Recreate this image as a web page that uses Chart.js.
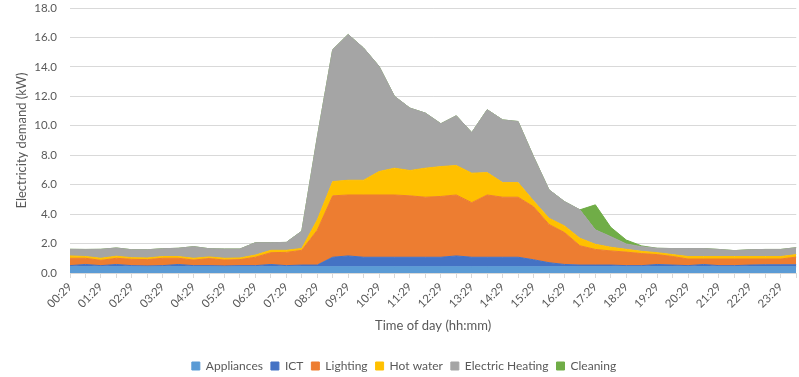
<!DOCTYPE html>
<html>
<head>
<meta charset="utf-8">
<script src="https://cdn.jsdelivr.net/npm/chart.js@4"></script>
<style>
  html, body { margin: 0; padding: 0; background: #ffffff; overflow: hidden; }
  #wrap { width: 808px; height: 377px; position: relative; }
</style>
</head>
<body>
<div id="wrap"><canvas id="demand-chart"></canvas></div>
<script>
// half-hourly time slots
const timeLabels = [
    '00:29', '00:59', '01:29', '01:59', '02:29', '02:59', '03:29', '03:59',
    '04:29', '04:59', '05:29', '05:59', '06:29', '06:59', '07:29', '07:59',
    '08:29', '08:59', '09:29', '09:59', '10:29', '10:59', '11:29', '11:59',
    '12:29', '12:59', '13:29', '13:59', '14:29', '14:59', '15:29', '15:59',
    '16:29', '16:59', '17:29', '17:59', '18:29', '18:59', '19:29', '19:59',
    '20:29', '20:59', '21:29', '21:59', '22:29', '22:59', '23:29', '23:59'
];

// demand per end use (kW)
const appliances = [
    0.42, 0.42, 0.42, 0.42, 0.42, 0.42, 0.42, 0.42, 0.42, 0.42, 0.42, 0.42,
    0.42, 0.42, 0.42, 0.42, 0.42, 0.42, 0.42, 0.42, 0.42, 0.42, 0.42, 0.42,
    0.42, 0.42, 0.42, 0.42, 0.42, 0.42, 0.42, 0.42, 0.42, 0.42, 0.42, 0.42,
    0.42, 0.42, 0.42, 0.42, 0.42, 0.42, 0.42, 0.42, 0.42, 0.42, 0.42, 0.42
];
const ict = [
    0.08, 0.16, 0.08, 0.16, 0.08, 0.06, 0.08, 0.16, 0.08, 0.08, 0.06, 0.08,
    0.08, 0.16, 0.08, 0.12, 0.12, 0.65, 0.74, 0.65, 0.65, 0.65, 0.65, 0.65,
    0.65, 0.74, 0.65, 0.65, 0.65, 0.65, 0.48, 0.28, 0.16, 0.12, 0.12, 0.12,
    0.08, 0.08, 0.16, 0.12, 0.08, 0.16, 0.08, 0.08, 0.12, 0.14, 0.14, 0.14
];
const lighting = [
    0.50, 0.42, 0.36, 0.42, 0.43, 0.43, 0.50, 0.42, 0.38, 0.48, 0.40, 0.41,
    0.57, 0.80, 0.90, 1.00, 2.36, 4.17, 4.14, 4.23, 4.23, 4.23, 4.17, 4.08,
    4.13, 4.14, 3.71, 4.23, 4.08, 4.08, 3.60, 2.60, 2.17, 1.31, 1.06, 0.96,
    0.92, 0.82, 0.67, 0.58, 0.45, 0.37, 0.45, 0.45, 0.41, 0.39, 0.39, 0.52
];
const hotWater = [
    0.16, 0.12, 0.14, 0.14, 0.11, 0.11, 0.12, 0.12, 0.12, 0.11, 0.12, 0.11,
    0.15, 0.16, 0.14, 0.13, 0.70, 0.97, 1.00, 1.00, 1.59, 1.82, 1.72, 1.97,
    2.03, 2.00, 2.00, 1.52, 0.99, 0.99, 0.40, 0.42, 0.45, 0.51, 0.35, 0.25,
    0.19, 0.15, 0.13, 0.13, 0.17, 0.17, 0.17, 0.17, 0.17, 0.17, 0.17, 0.17
];
const electricHeating = [
    0.45, 0.48, 0.61, 0.56, 0.54, 0.56, 0.53, 0.56, 0.79, 0.56, 0.63, 0.61,
    0.84, 0.52, 0.54, 1.17, 5.60, 8.96, 9.90, 8.98, 7.15, 4.88, 4.24, 3.74,
    2.91, 3.38, 2.76, 4.27, 4.26, 4.15, 3.00, 1.93, 1.65, 1.93, 0.98, 0.72,
    0.36, 0.32, 0.30, 0.41, 0.54, 0.54, 0.48, 0.40, 0.46, 0.48, 0.48, 0.47
];
const cleaning = [
    0, 0, 0, 0, 0, 0, 0, 0, 0, 0, 0, 0,
    0, 0, 0, 0, 0, 0, 0, 0, 0, 0, 0, 0,
    0, 0, 0, 0, 0, 0, 0, 0, 0, 0, 1.70, 0.63,
    0.27, 0.05, 0, 0, 0, 0, 0, 0, 0, 0, 0, 0
];

const yTicks = { min: 0, max: 18, step: 2 };

const textColor = '#595959';
const gridColor = '#d9d9d9';
const fontFamily = 'Lato, "Liberation Sans", sans-serif';

function areaSet(label, data, color, fill) {
    return {
        label: label,
        data: data,
        backgroundColor: color,
        borderColor: color,
        borderWidth: 1,
        pointRadius: 0,
        pointHoverRadius: 0,
        tension: 0,
        fill: fill
    };
}

const ctx = document.getElementById('demand-chart').getContext('2d');

new Chart(ctx, {
    type: 'line',
    data: {
        labels: timeLabels,
        datasets: [
            areaSet('Appliances', appliances, '#5b9bd5', 'origin'),
            areaSet('ICT', ict, '#4472c4', '-1'),
            areaSet('Lighting', lighting, '#ed7d31', '-1'),
            areaSet('Hot water', hotWater, '#ffc000', '-1'),
            areaSet('Electric Heating', electricHeating, '#a5a5a5', '-1'),
            areaSet('Cleaning', cleaning, '#70ad47', '-1')
        ]
    },
    options: {
        responsive: true,
        maintainAspectRatio: false,
        animation: false,
        layout: {
            padding: { left: 0, right: 0, top: 8, bottom: -5 }
        },
        plugins: {
            legend: {
                position: 'bottom',
                labels: {
                    boxWidth: 8,
                    boxHeight: 8,
                    padding: 8,
                    color: textColor,
                    font: { family: fontFamily, size: 12 }
                }
            },
            tooltip: { enabled: false }
        },
        scales: {
            x: {
                offset: false,
                grid: {
                    drawOnChartArea: false,
                    drawTicks: true,
                    tickLength: 5,
                    color: gridColor
                },
                border: { color: gridColor },
                ticks: {
                    autoSkip: false,
                    maxRotation: 45,
                    minRotation: 45,
                    padding: 2,
                    color: textColor,
                    font: { family: fontFamily, size: 11.5 },
                    callback: function(value, index) {
                        return index % 2 === 0 ? this.getLabelForValue(value) : '';
                    }
                },
                title: {
                    display: true,
                    text: 'Time of day (hh:mm)',
                    color: textColor,
                    font: { family: fontFamily, size: 13 },
                    padding: { top: 0, bottom: 18 }
                },
                afterFit: function(scale) {
                    scale.height = 79;
                }
            },
            y: {
                stacked: true,
                min: yTicks.min,
                max: yTicks.max,
                grid: {
                    // invisible tick marks keep the labels clear of the plot
                    drawTicks: true,
                    tickLength: 12,
                    tickColor: 'rgba(0, 0, 0, 0)',
                    color: gridColor
                },
                border: { display: false },
                ticks: {
                    stepSize: yTicks.step,
                    padding: 1,
                    color: textColor,
                    font: { family: fontFamily, size: 11.5 },
                    callback: function(value) {
                        return value.toFixed(1);
                    }
                },
                title: {
                    display: true,
                    text: 'Electricity demand (kW)',
                    color: textColor,
                    font: { family: fontFamily, size: 13 },
                    padding: { top: 14, bottom: 0 }
                },
                afterFit: function(scale) {
                    scale.width = 70;
                }
            }
        }
    }
});
</script>
</body>
</html>
